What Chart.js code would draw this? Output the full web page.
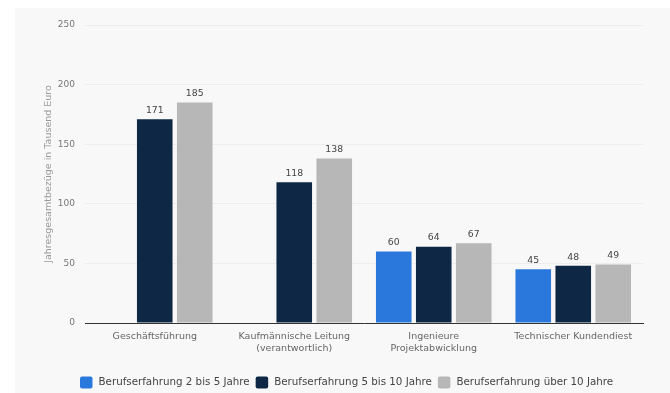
<!DOCTYPE html>
<html>
<head>
<meta charset="utf-8">
<script src="https://cdn.jsdelivr.net/npm/chart.js@4.4.0/dist/chart.umd.min.js"></script>
<style>
  html, body { margin: 0; padding: 0; background: #fff; }
  #wrap { width: 670px; height: 393px; }
</style>
</head>
<body>
<div id="wrap"><canvas id="chart" width="670" height="393"></canvas></div>
<script>
const categories = ['Geschäftsführung', ['Kaufmännische Leitung', '(verantwortlich)'], ['Ingenieure', 'Projektabwicklung'], 'Technischer Kundendiest'];
const exp2to5 = [null, null, 60, 45];
const exp5to10 = [171, 118, 64, 48];
const expOver10 = [185, 138, 67, 49];
const seriesNames = ['Berufserfahrung 2 bis 5 Jahre', 'Berufserfahrung 5 bis 10 Jahre', 'Berufserfahrung über 10 Jahre'];
const yTicks = [0, 50, 100, 150, 200, 250];
const yTitle = 'Jahresgesamtbezüge in Tausend Euro';

const colors = ['#2a78dc', '#0d2744', '#b7b7b7'];

const background = {
    id: 'background',
    beforeDraw(chart) {
        const ctx = chart.ctx;
        ctx.save();
        ctx.fillStyle = '#ffffff';
        ctx.fillRect(0, 0, chart.width, chart.height);
        ctx.fillStyle = '#f8f8f8';
        ctx.fillRect(15, 8, chart.width - 15, chart.height - 8);
        ctx.restore();
    }
};

const valueLabels = {
    id: 'valueLabels',
    afterDatasetsDraw(chart) {
        const ctx = chart.ctx;
        ctx.save();
        ctx.font = '9.3px "DejaVu Sans"';
        ctx.fillStyle = '#444';
        ctx.textAlign = 'center';
        ctx.textBaseline = 'bottom';
        chart.data.datasets.forEach((ds, i) => {
            chart.getDatasetMeta(i).data.forEach((bar, j) => {
                if (ds.data[j] == null) return;
                ctx.fillText(ds.data[j], bar.x, bar.y - 4);
            });
        });
        ctx.restore();
    }
};

// legend drawn by hand so it sits where the original has it
const legendBox = {
    id: 'legendBox',
    afterDraw(chart) {
        const ctx = chart.ctx;
        ctx.save();
        ctx.font = '10.3px "DejaVu Sans"';
        ctx.textBaseline = 'middle';
        let x = 80;
        const y = 382.5;
        chart.data.datasets.forEach(ds => {
            ctx.fillStyle = ds.backgroundColor;
            ctx.beginPath();
            ctx.roundRect(x, y - 6, 12.5, 12, 2);
            ctx.fill();
            ctx.fillStyle = '#444';
            ctx.fillText(ds.label, x + 18.5, y);
            x += 18.5 + ctx.measureText(ds.label).width + 6;
        });
        ctx.restore();
    }
};

new Chart(document.getElementById('chart').getContext('2d'), {
    type: 'bar',
    data: {
        labels: categories,
        datasets: [
            { label: seriesNames[0], data: exp2to5, backgroundColor: colors[0] },
            { label: seriesNames[1], data: exp5to10, backgroundColor: colors[1] },
            { label: seriesNames[2], data: expOver10, backgroundColor: colors[2] }
        ]
    },
    options: {
        responsive: false,
        animation: false,
        categoryPercentage: 0.86,
        barPercentage: 0.89,
        layout: { padding: { left: 40, right: 27, top: 25, bottom: 0 } },
        plugins: {
            legend: { display: false },
            tooltip: { enabled: false }
        },
        scales: {
            x: {
                grid: { display: false, drawTicks: false },
                border: { display: true, color: '#333', width: 1 },
                ticks: {
                    padding: 8,
                    color: '#666',
                    font: { family: 'DejaVu Sans', size: 9.5 },
                    maxRotation: 0,
                    autoSkip: false
                },
                afterFit(scale) { scale.height = 70; }
            },
            y: {
                min: 0,
                max: 250,
                afterBuildTicks(scale) { scale.ticks = yTicks.map(v => ({ value: v })); },
                grid: { color: 'rgba(0,0,0,0.045)', drawTicks: false },
                border: { display: false },
                ticks: {
                    padding: 10,
                    color: '#777',
                    font: { family: 'DejaVu Sans', size: 9 }
                },
                title: {
                    display: true,
                    text: yTitle,
                    color: '#999',
                    font: { family: 'DejaVu Sans', size: 9.5 },
                    padding: { top: 3, bottom: 0 }
                },
                afterFit(scale) { scale.width = 45; }
            }
        }
    },
    plugins: [background, valueLabels, legendBox]
});
</script>
</body>
</html>
